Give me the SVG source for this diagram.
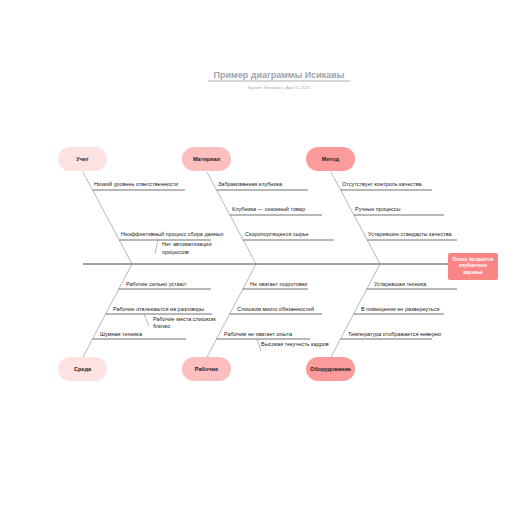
<svg xmlns="http://www.w3.org/2000/svg" width="516" height="516" viewBox="0 0 516 516">
<style>
text{font-family:"Liberation Sans",Arial,sans-serif;}
.t{font-size:5.5px;fill:#222;}
.n{font-size:5.6px;font-weight:bold;fill:#222;text-anchor:middle;}
.bone{stroke:#8a8a8a;stroke-width:0.6;fill:none;}
.sub{stroke:#333;stroke-width:0.7;fill:none;}
.spine{stroke:#444;stroke-width:1;fill:none;}
.c1{fill:#fde2e2;}
.c2{fill:#fcbebe;}
.c3{fill:#fb9b9b;}
</style>
<rect width="516" height="516" fill="#fff"/>
<g id="title">
<text x="279" y="77.5" font-size="9" font-weight="bold" fill="#9ea4ae" text-anchor="middle">Пример диаграммы Исикавы</text>
<line x1="208" y1="81" x2="350" y2="81" stroke="#9ea4ae" stroke-width="0.9"/>
<text x="279" y="88.5" font-size="4.3" fill="#a4a9b1" text-anchor="middle">System Templates  |  April 5, 2025</text>
</g>
<g id="connectors">
<line class="spine" x1="83" y1="264" x2="448" y2="264"/>
<line class="bone" x1="83" y1="172" x2="132" y2="264"/>
<line class="bone" x1="207" y1="172" x2="256" y2="264"/>
<line class="bone" x1="331" y1="172" x2="380" y2="264"/>
<line class="bone" x1="132" y1="264" x2="83" y2="357"/>
<line class="bone" x1="256" y1="264" x2="207" y2="357"/>
<line class="bone" x1="380" y1="264" x2="331" y2="357"/>
<line class="sub" x1="92.6" y1="190" x2="185" y2="190"/>
<line class="sub" x1="119.2" y1="240" x2="211" y2="240"/>
<line class="bone" x1="158" y1="240" x2="155" y2="254"/>
<line class="sub" x1="216.6" y1="190" x2="308" y2="190"/>
<line class="sub" x1="229.9" y1="215" x2="322" y2="215"/>
<line class="sub" x1="243.2" y1="240" x2="334" y2="240"/>
<line class="sub" x1="340.6" y1="190" x2="432" y2="190"/>
<line class="sub" x1="353.9" y1="215" x2="444" y2="215"/>
<line class="sub" x1="367.2" y1="240" x2="457" y2="240"/>
<line class="sub" x1="118.8" y1="289" x2="211" y2="289"/>
<line class="sub" x1="105.7" y1="314" x2="212" y2="314"/>
<line class="bone" x1="144" y1="314" x2="149" y2="326"/>
<line class="sub" x1="92.5" y1="339" x2="186" y2="339"/>
<line class="sub" x1="242.8" y1="289" x2="308" y2="289"/>
<line class="sub" x1="229.7" y1="314" x2="322" y2="314"/>
<line class="sub" x1="216.5" y1="339" x2="310" y2="339"/>
<line class="bone" x1="257" y1="339" x2="261" y2="351"/>
<line class="sub" x1="366.8" y1="289" x2="457" y2="289"/>
<line class="sub" x1="353.7" y1="314" x2="444" y2="314"/>
<line class="sub" x1="340.5" y1="339" x2="432" y2="339"/>
</g>
<g id="labels">
<text class="t" x="94" y="186">Низкий уровень ответственности</text>
<text class="t" x="121" y="236">Неэффективный процесс сбора данных</text>
<text class="t" x="162" y="246">Нет автоматизации</text>
<text class="t" x="162" y="253.5">процессов</text>
<text class="t" x="218" y="186">Забракованная клубника</text>
<text class="t" x="232" y="211">Клубника — сезонный товар</text>
<text class="t" x="245" y="236">Скоропортящееся сырье</text>
<text class="t" x="342" y="186">Отсутствует контроль качества</text>
<text class="t" x="355" y="211">Ручные процессы</text>
<text class="t" x="368" y="236">Устаревшие стандарты качества</text>
<text class="t" x="126" y="285.5">Рабочие сильно устают</text>
<text class="t" x="113" y="310.5">Рабочие отвлекаются на разговоры</text>
<text class="t" x="153" y="321">Рабочие места слишком</text>
<text class="t" x="153" y="328">близко</text>
<text class="t" x="100" y="335.5">Шумная техника</text>
<text class="t" x="250" y="285.5">Не хватает подготовки</text>
<text class="t" x="237" y="310.5">Слишком много обязанностей</text>
<text class="t" x="224" y="335.5">Рабочим не хватает опыта</text>
<text class="t" x="261" y="346">Высокая текучесть кадров</text>
<text class="t" x="374" y="285.5">Устаревшая техника</text>
<text class="t" x="361" y="310.5">В помещении не развернуться</text>
<text class="t" x="348" y="335.5">Температура отображается неверно</text>
</g>
<g id="node-uchet"><rect class="c1" x="58" y="147" width="49" height="24" rx="12"/><text class="n" x="82.5" y="161">Учет</text></g>
<g id="node-material"><rect class="c2" x="182" y="147" width="49" height="24" rx="12"/><text class="n" x="206.5" y="161">Материал</text></g>
<g id="node-metod"><rect class="c3" x="306" y="147" width="49" height="24" rx="12"/><text class="n" x="330.5" y="161">Метод</text></g>
<g id="node-sreda"><rect class="c1" x="58" y="357" width="49" height="24" rx="12"/><text class="n" x="82.5" y="371">Среда</text></g>
<g id="node-rabochie"><rect class="c2" x="182" y="357" width="49" height="24" rx="12"/><text class="n" x="206.5" y="371">Рабочие</text></g>
<g id="node-oborudovanie"><rect class="c3" x="306" y="357" width="49" height="24" rx="12"/><text class="n" x="330.5" y="371">Оборудование</text></g>
<g id="node-effect">
<rect x="448" y="253" width="50" height="27" rx="2" fill="#fa8585"/>
<text x="473" y="260.5" font-size="4.8" font-weight="bold" fill="#fff" text-anchor="middle">Плохо продается</text>
<text x="473" y="267" font-size="4.8" font-weight="bold" fill="#fff" text-anchor="middle">клубничное</text>
<text x="473" y="273.5" font-size="4.8" font-weight="bold" fill="#fff" text-anchor="middle">варенье</text>
</g>
</svg>
